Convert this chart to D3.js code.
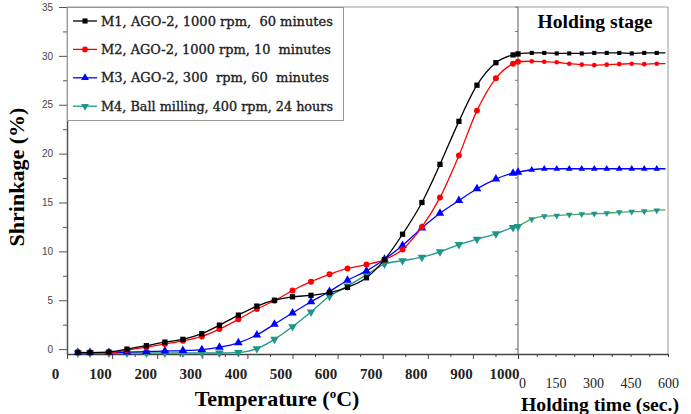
<!DOCTYPE html>
<html>
<head>
<meta charset="utf-8">
<script src="https://cdn.jsdelivr.net/npm/d3@7"></script>
<style>
  body { margin: 0; background: #fff; }
  svg { display: block; }
</style>
</head>
<body>
<div id="chart"></div>
<script>
// temperatures (°C) of the heating stage
const temps = [24, 51, 93, 133, 176, 217, 257, 299, 338, 380, 421, 460, 500, 541, 582, 622, 664, 704, 744, 787, 827, 869, 909, 951, 989, 1000];
const m1Heat = [-0.35, -0.35, -0.3, 0.0, 0.35, 0.72, 1.0, 1.58, 2.45, 3.48, 4.4, 5.0, 5.35, 5.5, 5.78, 6.32, 7.3, 9.15, 11.75, 15.0, 18.9, 23.3, 27.0, 29.3, 30.1, 30.2];
const m2Heat = [-0.3, -0.35, -0.35, -0.1, 0.2, 0.52, 0.85, 1.3, 2.05, 3.05, 4.1, 4.95, 6.0, 6.9, 7.65, 8.25, 8.65, 9.15, 10.2, 12.5, 15.5, 19.8, 24.4, 27.7, 29.2, 29.4];
const m3Heat = [-0.35, -0.35, -0.35, -0.3, -0.25, -0.2, -0.15, -0.05, 0.2, 0.65, 1.45, 2.55, 3.7, 4.85, 5.9, 7.05, 8.0, 9.2, 10.6, 12.4, 13.9, 15.2, 16.4, 17.4, 18.0, 18.1];
const m4Heat = [-0.4, -0.4, -0.4, -0.4, -0.4, -0.4, -0.4, -0.4, -0.4, -0.35, 0.05, 1.0, 2.3, 3.8, 5.4, 6.45, 7.6, 8.7, 9.05, 9.4, 9.95, 10.7, 11.25, 11.8, 12.45, 12.55];

// holding stage (sec.)
const times = [0, 55, 105, 155, 205, 255, 305, 355, 405, 455, 505, 555, 590];
const m1Hold = [30.2, 30.3, 30.3, 30.25, 30.25, 30.25, 30.3, 30.3, 30.3, 30.25, 30.3, 30.3, 30.3];
const m2Hold = [29.4, 29.45, 29.4, 29.35, 29.2, 29.1, 29.05, 29.1, 29.15, 29.2, 29.15, 29.2, 29.2];
const m3Hold = [18.1, 18.35, 18.45, 18.45, 18.45, 18.45, 18.45, 18.45, 18.45, 18.45, 18.45, 18.45, 18.45];
const m4Hold = [12.55, 13.3, 13.6, 13.65, 13.75, 13.8, 13.85, 13.9, 14.0, 14.05, 14.1, 14.2, 14.25];

const labels = ["M1, AGO-2, 1000 rpm,  60 minutes", "M2, AGO-2, 1000 rpm, 10  minutes", "M3, AGO-2, 300  rpm, 60  minutes", "M4, Ball milling, 400 rpm, 24 hours"];
const colors = ["#000000", "#ff0000", "#0000ff", "#1e968c"];
const symbols = [d3.symbolSquare, d3.symbolCircle, d3.symbolTriangle, "down"];

const tempTicks = [0, 100, 200, 300, 400, 500, 600, 700, 800, 900, 1000];
const timeTicks = [0, 150, 300, 450, 600];
const yTicks = [0, 5, 10, 15, 20, 25, 30, 35];

const series = [
  {heat: m1Heat, hold: m1Hold},
  {heat: m2Heat, hold: m2Hold},
  {heat: m3Heat, hold: m3Hold},
  {heat: m4Heat, hold: m4Hold}
];

const width = 691, height = 414;
const dim = {left: 67, split: 518, right: 668, top: 7, bottom: 354};

const svg = d3.select("#chart").append("svg")
    .attr("width", width)
    .attr("height", height);

const xL = d3.scaleLinear().domain([0, 1000]).range([dim.left, dim.split]);
const xR = d3.scaleLinear().domain([0, 600]).range([dim.split, dim.right]);
const y = d3.scaleLinear().domain([-0.5, 35]).range([dim.bottom, dim.top]);

// frame
svg.append("line").attr("x1", dim.left).attr("x2", dim.right).attr("y1", dim.top).attr("y2", dim.top)
    .attr("stroke", "#999").attr("stroke-width", 1);
svg.append("line").attr("x1", dim.right).attr("x2", dim.right).attr("y1", dim.top).attr("y2", dim.bottom)
    .attr("stroke", "#999").attr("stroke-width", 1);
svg.append("line").attr("x1", dim.split).attr("x2", dim.split).attr("y1", dim.top).attr("y2", dim.bottom)
    .attr("stroke", "#777").attr("stroke-width", 1.2);

// ticks on the divider, pointing left
const halfTicks = d3.range(0, 35.1, 2.5);
svg.selectAll(".divtick").data(halfTicks).join("line")
    .attr("x1", dim.split - 3).attr("x2", dim.split)
    .attr("y1", d => y(d)).attr("y2", d => y(d))
    .attr("stroke", "#777");

// y axis
const yAxis = svg.append("g").attr("transform", `translate(${dim.left},0)`)
    .call(d3.axisLeft(y).tickValues(yTicks).tickSize(8).tickPadding(6).tickSizeOuter(0));
yAxis.select(".domain").attr("stroke", "#555").attr("stroke-width", 1.5);
yAxis.selectAll(".tick line").attr("stroke", "#555");
yAxis.selectAll(".tick text").attr("fill", "#444")
    .style("font-family", "Liberation Sans, Arial, sans-serif").style("font-size", "10px");
const yMinor = svg.append("g").attr("transform", `translate(${dim.left},0)`)
    .call(d3.axisLeft(y).tickValues(d3.range(2.5, 35, 5)).tickSize(4).tickFormat("").tickSizeOuter(0));
yMinor.select(".domain").remove();
yMinor.selectAll(".tick line").attr("stroke", "#555");

// bottom axes
const xAxisL = svg.append("g").attr("transform", `translate(0,${dim.bottom})`)
    .call(d3.axisBottom(xL).tickValues(tempTicks).tickFormat(d3.format("d")).tickSize(5).tickPadding(9).tickSizeOuter(0));
xAxisL.select(".domain").attr("stroke", "#444").attr("stroke-width", 1.5);
xAxisL.selectAll(".tick line").attr("stroke", "#444");
xAxisL.selectAll(".tick text").attr("fill", "#222").attr("dx", d => d === 1000 ? -14 : -12)
    .style("font-family", "Liberation Serif, Times New Roman, serif").style("font-size", "15px").style("font-weight", "bold");
const xMinorL = svg.append("g").attr("transform", `translate(0,${dim.bottom})`)
    .call(d3.axisBottom(xL).tickValues(d3.range(50, 1000, 100)).tickSize(3).tickFormat("").tickSizeOuter(0));
xMinorL.select(".domain").remove();
xMinorL.selectAll(".tick line").attr("stroke", "#444");

const xAxisR = svg.append("g").attr("transform", `translate(0,${dim.bottom})`)
    .call(d3.axisBottom(xR).tickValues(timeTicks).tickSize(3).tickPadding(21).tickSizeOuter(0));
xAxisR.select(".domain").attr("stroke", "#444").attr("stroke-width", 1.5);
xAxisR.selectAll(".tick line").attr("stroke", "#444");
xAxisR.selectAll(".tick text").attr("fill", "#222")
    .attr("dx", d => d === 0 ? 4 : 0)
    .style("font-family", "Liberation Serif, Times New Roman, serif").style("font-size", "14px");
const xMinorR = svg.append("g").attr("transform", `translate(0,${dim.bottom})`)
    .call(d3.axisBottom(xR).tickValues(d3.range(75, 600, 150)).tickSize(3).tickFormat("").tickSizeOuter(0));
xMinorR.select(".domain").remove();
xMinorR.selectAll(".tick line").attr("stroke", "#444");

// marker helper
function marker(type, size) {
  if (type === "down") {
    return d3.symbol(d3.symbolTriangle, size)();
  }
  return d3.symbol(type, size)();
}

const lineL = d3.line().x(d => xL(d[0])).y(d => y(d[1])).curve(d3.curveMonotoneX);
const lineR = d3.line().x(d => xR(d[0])).y(d => y(d[1])).curve(d3.curveMonotoneX);

// draw lower series first so black ends on top
[3, 2, 1, 0].forEach(i => {
  const s = series[i];
  const heat = temps.map((t, j) => [t, s.heat[j]]);
  const hold = times.map((t, j) => [t, s.hold[j]]);
  const col = colors[i];

  svg.append("path").datum(heat)
      .attr("fill", "none").attr("stroke", col).attr("stroke-width", 1.3)
      .attr("d", lineL);
  svg.append("path").datum(hold)
      .attr("fill", "none").attr("stroke", i === 3 ? "#4ea85c" : col).attr("stroke-width", 1.3)
      .attr("d", lineR);

  const big = i === 1 ? 28 : (i === 0 ? 28 : 32);
  svg.selectAll(".mh" + i).data(heat).join("path")
      .attr("d", marker(symbols[i], big))
      .attr("fill", col)
      .attr("transform", d => `translate(${xL(d[0])},${y(d[1])})` + (symbols[i] === "down" ? " rotate(180)" : ""));
  svg.selectAll(".mr" + i).data(hold.slice(0, hold.length - 1)).join("path")
      .attr("d", marker(symbols[i], big * 0.6))
      .attr("fill", col)
      .attr("transform", d => `translate(${xR(d[0])},${y(d[1])})` + (symbols[i] === "down" ? " rotate(180)" : ""));
});

// legend
const legend = svg.append("g");
legend.append("rect")
    .attr("x", 67.5).attr("y", 7.5).attr("width", 276).attr("height", 113)
    .attr("fill", "#fff").attr("stroke", "#999");
const legWidths = [232, 230, 228, 232];
labels.forEach((lab, i) => {
  const ly = 21 + i * 28.4;
  legend.append("line").attr("x1", 73).attr("x2", 97).attr("y1", ly).attr("y2", ly)
      .attr("stroke", colors[i]).attr("stroke-width", 1.3);
  legend.append("path")
      .attr("d", marker(symbols[i], 26))
      .attr("fill", colors[i])
      .attr("transform", `translate(85,${ly})` + (symbols[i] === "down" ? " rotate(180)" : ""));
  legend.append("text")
      .attr("x", 101).attr("y", ly + 4.5)
      .attr("textLength", legWidths[i]).attr("lengthAdjust", "spacingAndGlyphs")
      .attr("fill", "#222").attr("stroke", "#222").attr("stroke-width", 0.35)
      .style("white-space", "pre")
      .style("font-family", "DejaVu Serif, serif").style("font-size", "12.5px")
      .text(lab);
});

// titles
svg.append("text")
    .attr("x", 595).attr("y", 28)
    .attr("text-anchor", "middle")
    .attr("textLength", 115).attr("lengthAdjust", "spacingAndGlyphs")
    .style("font-family", "Liberation Serif, Times New Roman, serif").style("font-size", "18px").style("font-weight", "bold")
    .text("Holding stage");

const tTitle = svg.append("text")
    .attr("x", 277).attr("y", 406)
    .attr("text-anchor", "middle")
    .style("font-family", "Liberation Serif, Times New Roman, serif").style("font-size", "22px").style("font-weight", "bold");
tTitle.append("tspan").text("Temperature (");
tTitle.append("tspan").attr("dy", -8).style("font-size", "13px").text("o");
tTitle.append("tspan").attr("dy", 8).text("C)");

svg.append("text")
    .attr("transform", "translate(24,177) rotate(-90)")
    .attr("text-anchor", "middle")
    .style("font-family", "Liberation Serif, Times New Roman, serif").style("font-size", "22px").style("font-weight", "bold")
    .text("Shrinkage (%)");

svg.append("text")
    .attr("x", 600).attr("y", 411)
    .attr("text-anchor", "middle")
    .attr("textLength", 158).attr("lengthAdjust", "spacingAndGlyphs")
    .style("font-family", "Liberation Serif, Times New Roman, serif").style("font-size", "18px").style("font-weight", "bold")
    .text("Holding time (sec.)");
</script>
</body>
</html>
